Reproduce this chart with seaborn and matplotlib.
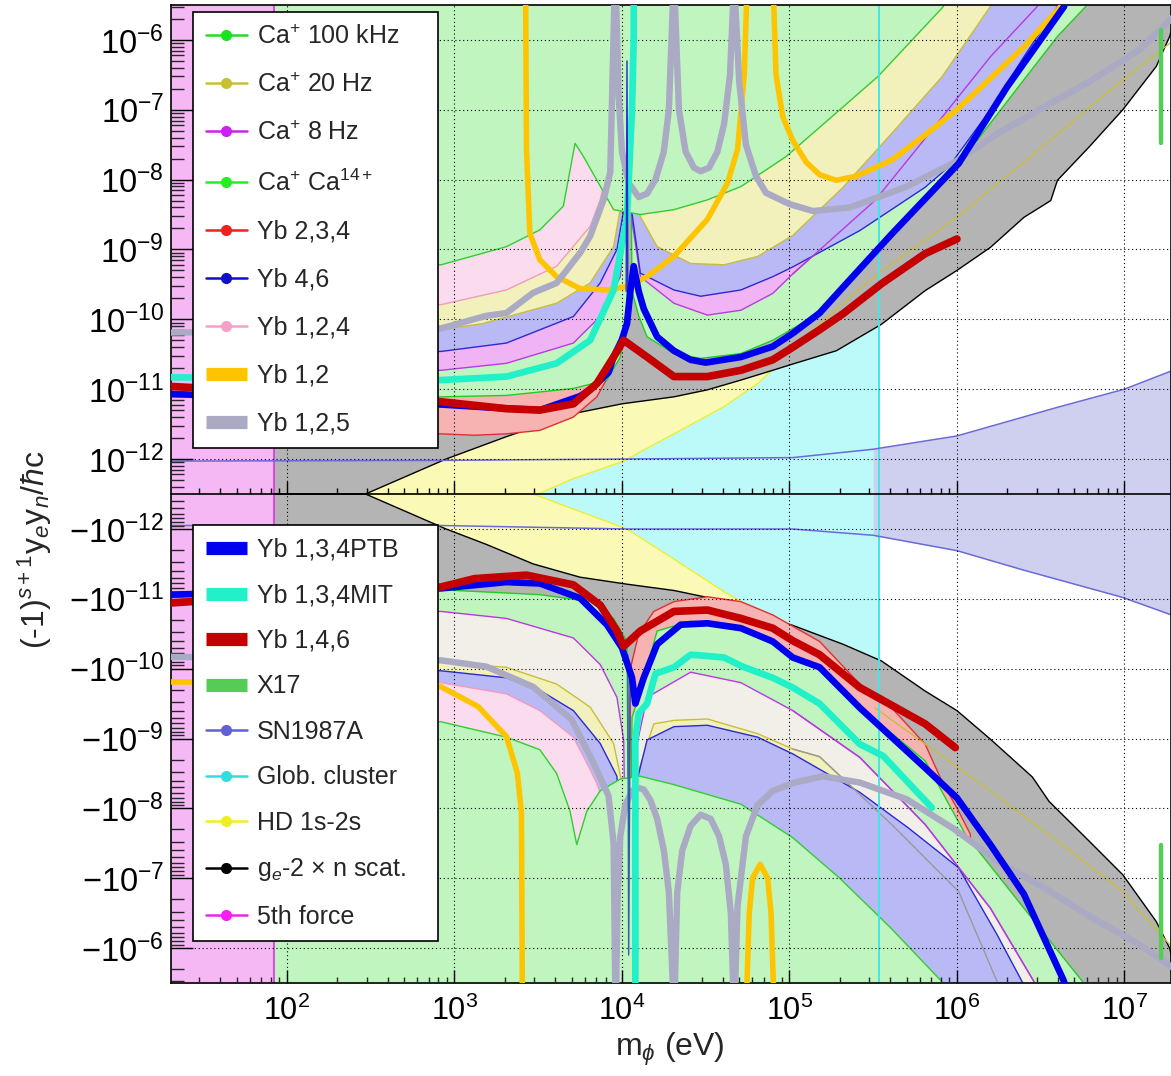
import numpy as np
import matplotlib
matplotlib.use("Agg")
import matplotlib.pyplot as plt
from matplotlib.lines import Line2D
from matplotlib.ticker import NullFormatter, LogLocator
import seaborn as sns

sns.set_theme(style="white")
plt.rcParams["font.family"] = ["Liberation Sans", "DejaVu Sans"]
plt.rcParams["mathtext.fontset"] = "custom"
plt.rcParams["mathtext.rm"] = "Liberation Sans"
plt.rcParams["mathtext.it"] = "Liberation Sans:italic"
plt.rcParams["mathtext.bf"] = "Liberation Sans:bold"

# all curves: log10(m_phi / eV) and log10|y_e y_n / hbar c|
# "up" = positive half, "dn" = negative half; -14 means "at zero"

# --- filled constraints ---
glob_lx = [1.3075, 5.534]
force5_lx = [1.0, 1.92]

hd_up_lx = [1.30, 3.49, 3.50, 3.71, 4.00, 4.31, 4.61, 4.81, 5.00, 5.50, 6.00, 6.50, 7.00, 7.30]
hd_up_ly = [-14, -14, -12.5, -12.28, -12.04, -11.64, -11.25, -10.92, -10.5, -9.5, -8.5, -7.0, -5.6, -5.0]
hd_dn_lx = [1.30, 3.46, 3.47, 4.03, 4.31, 4.61, 4.75, 5.00, 5.50, 6.00, 6.50, 7.00, 7.30]
hd_dn_ly = [-14, -14, -12.5, -12.0, -11.57, -11.10, -10.91, -10.5, -9.5, -8.5, -7.0, -5.6, -5.0]

ge2_up_lx = [1.30, 2.46, 2.47, 2.95, 3.31, 3.71, 4.00, 4.31, 4.51, 4.71, 4.90, 5.02, 5.28,
             5.55, 5.81, 6.00, 6.20, 6.40, 6.56, 6.60, 6.79, 6.99, 7.19, 7.27, 7.30]
ge2_up_ly = [-14, -14, -12.5, -12.0, -11.68, -11.35, -11.21, -11.11, -11.01, -10.87, -10.73, -10.64, -10.45,
             -10.07, -9.59, -9.30, -8.97, -8.54, -8.30, -8.01, -7.53, -7.0, -6.38, -5.95, -5.7]
ge2_dn_lx = [1.30, 2.46, 2.47, 2.95, 3.19, 3.47, 3.75, 4.03, 4.31, 4.59, 4.86, 5.02, 5.32,
             5.55, 5.81, 6.00, 6.20, 6.45, 6.55, 6.79, 6.99, 7.19, 7.27, 7.30]
ge2_dn_ly = [-14, -14, -12.5, -12.0, -11.78, -11.50, -11.31, -11.21, -11.12, -10.98, -10.74, -10.62, -10.35,
             -10.11, -9.68, -9.40, -8.99, -8.45, -8.10, -7.53, -7.05, -6.38, -6.0, -5.7]

sn_up_lx = [1.30, 2.92, 4.03, 5.02, 5.50, 6.00, 6.60, 7.00, 7.28]
sn_up_ly = [-12.03, -12.02, -12.0, -11.98, -11.86, -11.67, -11.26, -11.0, -10.74]
sn_dn_lx = [1.30, 2.92, 4.03, 5.02, 5.50, 6.00, 6.40, 6.99, 7.28]
sn_dn_ly = [-12.05, -12.05, -12.0, -12.0, -11.91, -11.69, -11.41, -11.02, -10.77]

yb234_up_lx = [1.30, 2.92, 3.12, 3.31, 3.51, 3.71, 3.85, 3.95, 4.00, 4.02]
yb234_up_ly = [-11.64, -11.64, -11.66, -11.64, -11.59, -11.40, -11.11, -10.68, -10.30, -5.4]
yb234_dn_lx = [4.03, 4.05, 4.10, 4.19, 4.31, 4.51, 4.71, 4.90, 5.18, 5.42, 5.61, 5.81, 5.91, 6.01, 6.08, 6.10]
yb234_dn_ly = [-5.4, -10.0, -10.5, -10.82, -10.96, -11.03, -10.96, -10.77, -10.39, -9.78, -9.44, -8.92,
               -8.39, -7.96, -7.63, -5.4]

ca14_up_lx = [1.30, 2.92, 3.31, 3.71, 3.91, 3.99, 4.03, 4.045, 4.06, 4.10, 4.15, 4.31, 4.47, 4.71, 4.90,
              5.18, 5.55, 5.81, 6.00, 6.12, 6.40, 6.60, 6.77]
ca14_up_ly = [-11.11, -11.11, -11.09, -10.99, -10.87, -10.54, -9.8, -5.4, -9.6, -9.95, -10.25, -10.49,
              -10.56, -10.49, -10.30, -9.91, -8.97, -8.25, -7.72, -7.44, -6.57, -5.95, -5.52]
ca14_dn_lx = [1.30, 2.92, 3.51, 3.81, 3.95, 4.03, 4.045, 4.06, 4.10, 4.13, 4.21, 4.41, 4.71, 4.90, 5.18,
              5.42, 5.81, 6.05, 6.40, 6.75]
ca14_dn_ly = [-11.13, -11.13, -11.06, -10.96, -10.72, -10.39, -5.4, -9.3, -9.6, -9.87, -10.54, -10.68,
              -10.58, -10.35, -10.0, -9.45, -8.68, -7.63, -6.57, -5.52]

ca8_up_lx = [1.30, 2.92, 3.31, 3.71, 3.87, 3.99, 4.025, 4.04, 4.06, 4.11, 4.31, 4.51, 4.71, 4.90, 5.02,
             5.51, 5.77, 6.20, 6.48]
ca8_up_ly = [-10.73, -10.73, -10.63, -10.34, -9.96, -9.39, -8.5, -5.4, -8.6, -9.39, -9.77, -9.94, -9.87,
             -9.63, -9.35, -8.30, -7.53, -6.24, -5.52]
ca8_dn_lx = [1.30, 2.92, 3.31, 3.71, 3.87, 3.97, 4.01, 4.035, 4.07, 4.15, 4.41, 4.71, 5.02, 5.42, 5.81,
             6.20, 6.46]
ca8_dn_ly = [-10.82, -10.82, -10.72, -10.44, -10.06, -9.59, -8.98, -5.4, -8.7, -9.59, -9.95, -9.80,
             -9.40, -8.73, -7.77, -6.57, -5.52]

yb46_up_lx = [1.30, 2.92, 3.31, 3.71, 3.87, 3.97, 4.02, 4.035, 4.055, 4.11, 4.31, 4.47, 4.71, 4.90, 5.02,
              5.42, 5.81, 5.95, 6.20, 6.40, 6.60]
yb46_up_ly = [-10.46, -10.46, -10.34, -9.96, -9.48, -9.0, -8.3, -5.4, -8.4, -9.34, -9.58, -9.67, -9.58,
              -9.39, -9.25, -8.73, -8.11, -7.82, -7.0, -6.24, -5.52]
yb46_dn_lx = [1.30, 2.92, 3.31, 3.51, 3.71, 3.87, 3.97, 4.035, 4.09, 4.15, 4.31, 4.51, 4.81, 5.02, 5.42,
              5.71, 6.01, 6.24, 6.40]
yb46_dn_ly = [-9.97, -9.97, -9.87, -9.69, -9.40, -8.93, -8.46, -5.4, -8.4, -8.98, -9.17, -9.19, -9.02,
              -8.78, -8.23, -7.72, -7.15, -6.19, -5.47]

ca20_up_lx = [1.30, 2.92, 3.17, 3.61, 3.81, 3.95, 4.00, 4.03, 4.06, 4.11, 4.21, 4.41, 4.61, 4.81, 5.02,
              5.32, 5.61, 5.91, 6.20]
ca20_up_ly = [-10.15, -10.15, -10.06, -9.77, -9.48, -8.96, -8.29, -5.4, -7.9, -8.53, -8.96, -9.20, -9.22,
              -9.10, -8.8, -8.11, -7.34, -6.53, -5.52]
ca20_dn_lx = [1.30, 2.92, 3.31, 3.61, 3.81, 3.95, 4.00, 4.035, 4.08, 4.19, 4.31, 4.51, 4.81, 5.02, 5.18,
              5.61, 6.01, 6.24]
ca20_dn_ly = [-10.09, -10.09, -10.02, -9.78, -9.45, -8.93, -8.36, -5.4, -8.4, -9.21, -9.26, -9.28, -9.07,
              -8.85, -8.74, -7.77, -6.81, -5.52]

yb124_up_lx = [1.30, 2.92, 3.31, 3.61, 3.81, 3.87, 3.94, 3.96]
yb124_up_ly = [-9.79, -9.79, -9.58, -9.24, -8.67, -8.29, -7.57, -5.4]
yb124_dn_lx = [1.30, 2.92, 3.31, 3.51, 3.71, 3.79, 3.85, 3.90, 3.94, 3.96]
yb124_dn_ly = [-9.80, -9.80, -9.64, -9.40, -9.02, -8.65, -8.36, -8.0, -7.0, -5.4]

ca100_up_lx = [1.30, 2.92, 3.31, 3.51, 3.65, 3.72, 3.77, 3.95, 4.11, 4.31, 4.51, 4.71, 4.98, 5.53, 5.92]
ca100_up_ly = [-9.22, -9.22, -8.96, -8.72, -8.38, -7.48, -7.67, -8.43, -8.50, -8.43, -8.29, -8.10,
               -7.67, -6.52, -5.52]
ca100_dn_lx = [1.30, 2.92, 3.31, 3.51, 3.61, 3.69, 3.73, 3.79, 3.87, 3.99, 4.11, 4.31, 4.71, 5.02,
               5.30, 5.60, 5.91]
ca100_dn_ly = [-9.24, -9.24, -9.02, -8.84, -8.50, -7.96, -7.48, -7.96, -8.25, -8.42, -8.46, -8.34,
               -8.06, -7.58, -7.0, -6.3, -5.52]

# --- thick curves ---
yb12_up1_lx = [3.425, 3.43, 3.45, 3.51, 3.61, 3.75, 3.91, 4.03, 4.15, 4.31, 4.51, 4.63, 4.69, 4.73, 4.745]
yb12_up1_ly = [-5.4, -7.57, -8.77, -9.15, -9.39, -9.56, -9.58, -9.53, -9.39, -9.10, -8.57, -8.05, -7.57, -6.5, -5.4]
yb12_up2_lx = [4.905, 4.92, 4.96, 5.02, 5.10, 5.18, 5.28, 5.40, 5.61, 5.80, 6.00, 6.20, 6.40, 6.62, 6.65]
yb12_up2_ly = [-5.4, -6.5, -7.1, -7.44, -7.75, -7.93, -8.01, -7.95, -7.72, -7.38, -7.0, -6.55, -6.10, -5.52, -5.4]
yb12_dn1_lx = [1.30, 2.00, 2.92, 3.14, 3.31, 3.375, 3.40, 3.405]
yb12_dn1_ly = [-9.81, -9.80, -9.74, -9.46, -9.03, -8.51, -7.94, -5.4]
yb12_dn2_lx = [4.745, 4.76, 4.78, 4.825, 4.87, 4.89, 4.905]
yb12_dn2_ly = [-5.4, -6.5, -7.0, -7.20, -7.0, -6.5, -5.4]

yb125_up_lx = [1.30, 2.00, 2.92, 3.19, 3.31, 3.47, 3.61, 3.75, 3.81, 3.89, 3.93, 3.955,
               3.965, 3.98, 4.00, 4.04, 4.10, 4.15, 4.20, 4.25, 4.28, 4.305,
               4.315, 4.34, 4.38, 4.43, 4.47, 4.52, 4.57, 4.61, 4.645, 4.665,
               4.675, 4.70, 4.74, 4.80, 4.86, 5.00, 5.14, 5.36, 5.70, 5.98, 6.25, 6.53, 6.81, 7.09, 7.30]
yb125_up_ly = [-10.19, -10.17, -10.13, -9.95, -9.91, -9.62, -9.48, -9.05, -8.81, -8.29, -7.9, -5.4,
               -5.4, -6.8, -7.6, -8.05, -8.25, -8.2, -8.0, -7.6, -7.0, -5.4,
               -5.4, -7.0, -7.6, -7.83, -7.88, -7.83, -7.6, -7.2, -6.5, -5.4,
               -5.4, -6.6, -7.5, -7.95, -8.19, -8.35, -8.45, -8.40, -8.10, -7.76, -7.33, -6.95, -6.57, -6.14, -5.65]
yb125_dn_lx = [1.30, 2.00, 2.92, 3.19, 3.47, 3.70, 3.83, 3.92, 3.95, 3.96,
               3.965, 3.975, 3.99, 4.02, 4.06, 4.09, 4.13, 4.17, 4.21, 4.25, 4.28, 4.305,
               4.315, 4.33, 4.36, 4.41, 4.47, 4.53, 4.58, 4.62, 4.65, 4.665,
               4.675, 4.69, 4.74, 4.81, 4.90, 5.03, 5.20, 5.42, 5.70, 5.98, 6.25, 6.53, 6.81, 7.09, 7.30]
yb125_dn_ly = [-10.17, -10.15, -10.12, -10.03, -9.74, -9.27, -8.65, -8.18, -7.5, -5.4,
               -5.4, -6.8, -7.6, -8.05, -8.25, -8.3, -8.27, -8.12, -7.85, -7.4, -6.8, -5.4,
               -5.4, -6.8, -7.4, -7.75, -7.91, -7.85, -7.6, -7.2, -6.5, -5.4,
               -5.4, -6.6, -7.6, -8.05, -8.25, -8.37, -8.46, -8.37, -8.13, -7.71, -7.23, -6.85, -6.43, -6.05, -5.7]

ptb_up_lx = [1.30, 2.00, 2.92, 3.19, 3.51, 3.75, 3.81, 3.92, 3.95, 4.00, 4.03, 4.05, 4.07, 4.10, 4.13,
             4.21, 4.31, 4.41, 4.50, 4.71, 4.90, 5.02, 5.18, 5.32, 5.61, 6.01, 6.30, 6.64]
ptb_up_ly = [-11.07, -11.12, -11.22, -11.26, -11.30, -11.10, -11.01, -10.76, -10.54, -10.29, -10.06, -9.6,
             -9.24, -9.60, -9.85, -10.25, -10.45, -10.58, -10.62, -10.54, -10.39, -10.2, -9.91, -9.54,
             -8.78, -7.77, -6.67, -5.52]
ptb_dn_lx = [1.30, 2.00, 2.92, 3.31, 3.51, 3.75, 3.91, 4.00, 4.06, 4.08, 4.13, 4.21, 4.35, 4.51, 4.71,
             4.90, 5.02, 5.18, 5.42, 5.81, 6.00, 6.20, 6.40, 6.64]
ptb_dn_ly = [-11.06, -11.1, -11.15, -11.24, -11.22, -11.01, -10.63, -10.30, -9.87, -9.50, -9.87, -10.35,
             -10.63, -10.65, -10.58, -10.39, -10.16, -10.02, -9.44, -8.58, -8.15, -7.48, -6.77, -5.52]
spike_up_lx = [4.025, 4.03, 4.035]
spike_up_ly = [-9.6, -6.3, -9.6]
spike_dn_lx = [4.035, 4.04, 4.05]
spike_dn_ly = [-10.2, -5.9, -9.9]

mit_up_lx = [1.30, 2.00, 2.92, 3.31, 3.61, 3.81, 3.95, 4.03, 4.06, 4.07, 4.07]
mit_up_ly = [-10.83, -10.85, -10.87, -10.82, -10.63, -10.30, -9.58, -8.53, -7.0, -6.0, -5.4]
mit_dn_lx = [4.08, 4.08, 4.10, 4.15, 4.20, 4.31, 4.41, 4.47, 4.61, 4.72, 4.90, 5.02, 5.18, 5.42, 5.56, 5.85]
mit_dn_ly = [-5.4, -9.0, -9.36, -9.50, -9.93, -10.02, -10.20, -10.19, -10.16, -10.03, -9.87, -9.73,
             -9.50, -8.92, -8.75, -8.01]

yb146_up_lx = [1.30, 2.00, 2.92, 3.31, 3.51, 3.71, 3.85, 3.95, 4.01, 4.15, 4.31, 4.51, 4.71, 4.90,
               5.02, 5.18, 5.32, 5.55, 5.81, 6.00]
yb146_up_ly = [-10.96, -11.05, -11.18, -11.28, -11.30, -11.21, -10.92, -10.54, -10.30, -10.54, -10.82,
               -10.82, -10.73, -10.58, -10.40, -10.15, -9.92, -9.49, -9.06, -8.85]
yb146_dn_lx = [1.30, 2.00, 2.92, 3.12, 3.43, 3.71, 3.87, 3.97, 4.01, 4.11, 4.31, 4.51, 4.71, 4.90,
               5.02, 5.18, 5.42, 5.81, 5.99]
yb146_dn_ly = [-10.94, -11.05, -11.17, -11.29, -11.34, -11.20, -10.91, -10.54, -10.32, -10.54, -10.82,
               -10.84, -10.72, -10.58, -10.40, -10.20, -9.73, -9.21, -8.87]

olive_up_lx = [5.02, 5.50, 6.00, 6.50, 6.99, 7.27]
olive_up_ly = [-10.4, -9.4, -8.54, -7.55, -6.57, -6.05]
olive_dn_lx = [5.51, 6.20, 6.60, 6.99, 7.27]
olive_dn_ly = [-9.44, -8.25, -7.53, -6.81, -6.05]

x17_lx = 7.22
x17_ly = [-7.48, -5.86]

EDGE = 1e-5

fig = plt.figure(figsize=(11.71, 10.76), dpi=100)
ax = fig.add_axes([171 / 1171, 93 / 1076, 1000 / 1171, 978 / 1076])
ax.set_xscale("log")
ax.set_yscale("symlog", linthresh=10 ** -12.5, linscale=0.001)


def fill_half(lx, ly, sign, face, edge, z, lw=1.0):
    x = 10.0 ** np.array(lx)
    y = sign * 10.0 ** np.array(ly)
    ax.fill_between(x, y, sign * EDGE, facecolor=face, edgecolor="none", lw=0, zorder=z)
    if edge is not None:
        ax.plot(x, y, color=edge, lw=lw, zorder=z + 0.005)


def curve(lx, ly, sign, color, lw, z=3.0):
    sns.lineplot(x=10.0 ** np.array(lx), y=sign * 10.0 ** np.array(ly), ax=ax, sort=False,
                 estimator=None, color=color, linewidth=lw, zorder=z, legend=False)


# glob. cluster and HD 1s-2s underneath
ax.fill_between(10.0 ** np.array(glob_lx), -EDGE, EDGE, facecolor="#bcfafa", lw=0, zorder=1.0)
fill_half(hd_up_lx, hd_up_ly, 1, "#fafab6", "#eeee30", 1.01)
fill_half(hd_dn_lx, hd_dn_ly, -1, "#fafab6", "#eeee30", 1.01)
fill_half(ge2_up_lx, ge2_up_ly, 1, "#b4b4b4", "black", 1.02)
fill_half(ge2_dn_lx, ge2_dn_ly, -1, "#b4b4b4", "black", 1.02)

# SN1987A: between zero and its curve
sn_x_up = 10.0 ** np.array(sn_up_lx)
sn_x_dn = 10.0 ** np.array(sn_dn_lx)
ax.fill_between(sn_x_up[4:], 0, 10.0 ** np.array(sn_up_ly)[4:], facecolor="#cfcff0", lw=0, zorder=1.03)
ax.fill_between(sn_x_dn[4:], 0, -10.0 ** np.array(sn_dn_ly)[4:], facecolor="#cfcff0", lw=0, zorder=1.03)

GREEN = "#c0f5c0"
up_layers = [
    (yb234_up_lx, yb234_up_ly, "#f7b2b2", "#e03030"),
    (ca14_up_lx, ca14_up_ly, GREEN, "#22cc22"),
    (ca8_up_lx, ca8_up_ly, "#f0b4f5", "#b83ae0"),
    (yb46_up_lx, yb46_up_ly, "#b9b9f5", "#2a2ad0"),
    (ca20_up_lx, ca20_up_ly, "#f2f0bb", "#c8be3c"),
    (yb124_up_lx, yb124_up_ly, "#fbdcee", "#f09cc0"),
    (ca100_up_lx, ca100_up_ly, GREEN, "#33cc33"),
]
dn_layers = [
    (yb234_dn_lx, yb234_dn_ly, "#f7b2b2", "#e03030"),
    (ca14_dn_lx, ca14_dn_ly, GREEN, "#22cc22"),
    (ca8_dn_lx, ca8_dn_ly, "#f2efe9", "#b83ae0"),
    (ca20_dn_lx, ca20_dn_ly, "#f2f0bb", "#c8be3c"),
    (yb46_dn_lx, yb46_dn_ly, "#b9b9f5", "#2a2ad0"),
    (yb124_dn_lx, yb124_dn_ly, "#fbdcee", "#f09cc0"),
    (ca100_dn_lx, ca100_dn_ly, GREEN, "#33cc33"),
]
for i, (lx, ly, face, edge) in enumerate(up_layers):
    fill_half(lx, ly, 1, face, edge, 1.05 + 0.01 * i)
for i, (lx, ly, face, edge) in enumerate(dn_layers):
    fill_half(lx, ly, -1, face, edge, 1.05 + 0.01 * i)

# thin lines seen on top of the fills
ax.plot(10.0 ** np.array(olive_up_lx), 10.0 ** np.array(olive_up_ly), color="#c8be3c", lw=1, zorder=1.2)
ax.plot(10.0 ** np.array(olive_dn_lx), -10.0 ** np.array(olive_dn_ly), color="#c8be3c", lw=1, zorder=1.2)
ax.plot(10.0 ** np.array(ca8_up_lx[14:]), 10.0 ** np.array(ca8_up_ly[14:]), color="#b83ae0", lw=1, zorder=1.2)
ax.plot(10.0 ** np.array(ca8_dn_lx[12:]), -10.0 ** np.array(ca8_dn_ly[12:]), color="#b83ae0", lw=1, zorder=1.2)
ax.plot(10.0 ** np.array(ca20_dn_lx[13:]), -10.0 ** np.array(ca20_dn_ly[13:]), color="#999999", lw=1, zorder=1.2)

# 5th force
ax.fill_between(10.0 ** np.array(force5_lx), -EDGE, EDGE, facecolor="#f5b8f5", lw=0, zorder=2.2)
ax.axvline(10.0 ** force5_lx[1], color="#dd33dd", lw=1.2, zorder=2.21)
ax.axvline(10.0 ** glob_lx[1], color="#44e6e6", lw=1.4, zorder=2.25)
ax.plot(sn_x_up, 10.0 ** np.array(sn_up_ly), color="#6a6ad8", lw=1.1, zorder=2.3)
ax.plot(sn_x_dn, -10.0 ** np.array(sn_dn_ly), color="#6a6ad8", lw=1.1, zorder=2.3)

# thick curves
C12, C125, CPTB, CMIT, C146 = "#ffc400", "#aaaac4", "#0000ee", "#22f0c8", "#c40000"
curve(yb12_up1_lx, yb12_up1_ly, 1, C12, 4.0, 3.0)
curve(yb12_up2_lx, yb12_up2_ly, 1, C12, 4.0, 3.0)
curve(yb12_dn1_lx, yb12_dn1_ly, -1, C12, 4.0, 3.0)
curve(yb12_dn2_lx, yb12_dn2_ly, -1, C12, 4.0, 3.0)
curve(yb125_up_lx, yb125_up_ly, 1, C125, 4.6, 3.1)
curve(yb125_dn_lx, yb125_dn_ly, -1, C125, 4.6, 3.1)
curve(mit_up_lx, mit_up_ly, 1, CMIT, 4.8, 3.2)
curve(mit_dn_lx, mit_dn_ly, -1, CMIT, 4.8, 3.2)
curve(spike_up_lx, spike_up_ly, 1, "#2a2ad0", 1.0, 3.25)
curve(spike_dn_lx, spike_dn_ly, -1, "#2a60b0", 1.0, 3.25)
curve(ptb_up_lx, ptb_up_ly, 1, CPTB, 4.8, 3.3)
curve(ptb_dn_lx, ptb_dn_ly, -1, CPTB, 4.8, 3.3)
curve(yb146_up_lx, yb146_up_ly, 1, C146, 5.5, 3.4)
curve(yb146_dn_lx, yb146_dn_ly, -1, C146, 5.5, 3.4)
for s in (1, -1):
    curve([x17_lx, x17_lx], x17_ly, s, "#55cc55", 3.2, 3.5)

ax.set_xlim(10 ** 1.3075, 10 ** 7.278)
ax.set_ylim(-10 ** -5.5, 10 ** -5.5)

# axes decoration in ROOT style
xmaj = [10.0 ** k for k in range(2, 8)]
ax.set_xticks(xmaj, [f"$10^{{{k}}}$" for k in range(2, 8)])
ax.xaxis.set_minor_locator(LogLocator(base=10, subs=np.arange(2, 10), numticks=50))
ax.xaxis.set_minor_formatter(NullFormatter())
exps = list(range(-12, -5))
ymaj = [10.0 ** e for e in exps] + [-10.0 ** e for e in exps]
ylab = [f"$10^{{{e}}}$" for e in exps] + [f"$-10^{{{e}}}$" for e in exps]
ax.set_yticks(ymaj, ylab)
ymin = [k * 10.0 ** e for e in range(-13, -5) for k in range(2, 10)
        if 10 ** -12.5 < k * 10.0 ** e < 10 ** -5.5]
ax.set_yticks(ymin + [-v for v in ymin], minor=True)

ax.tick_params(axis="x", which="major", direction="in", length=9.5, width=1.0, bottom=True, top=False,
               labelsize=22, pad=9, colors="black")
ax.tick_params(axis="x", which="minor", direction="in", length=4.5, width=1.0, bottom=True, top=False)
ax.tick_params(axis="y", which="major", direction="in", length=16, width=1.0, left=True, right=False,
               labelsize=23.5, pad=5, colors="black")
ax.tick_params(axis="y", which="minor", direction="in", length=9.5, width=1.0, left=True, right=False)
for sp in ax.spines.values():
    sp.set_color("black")
    sp.set_linewidth(1.2)
ax.grid(True, which="major", color="black", linestyle=(0, (1, 2.5)), linewidth=0.8)
ax.set_axisbelow(False)
ax.set_xlabel("")
ax.set_ylabel("")

# the zero line carries its own ticks
mid = ax.secondary_xaxis(0.5)
mid.set_xticks(xmaj)
mid.xaxis.set_major_formatter(NullFormatter())
mid.xaxis.set_minor_locator(LogLocator(base=10, subs=np.arange(2, 10), numticks=50))
mid.xaxis.set_minor_formatter(NullFormatter())
mid.tick_params(which="major", direction="out", length=9.5, width=1.0, colors="black")
mid.tick_params(which="minor", direction="out", length=4.5, width=1.0, colors="black")
for sp in mid.spines.values():
    sp.set_color("black")
    sp.set_linewidth(1.2)
mid.set_zorder(2.6)

fig.text(0.572, 0.025, r"m$_{\phi}$ (eV)", fontsize=23, ha="center", va="center")
fig.text(0.030, 0.489, r"(-1)$^{s+1}$y$_{e}$y$_{n}$/$\hbar$c", fontsize=23, rotation=90,
         ha="center", va="center")

# legends
leg1_labels = ["Ca$^{+}$ 100 kHz", "Ca$^{+}$ 20 Hz", "Ca$^{+}$ 8 Hz", "Ca$^{+}$ Ca$^{14+}$",
               "Yb 2,3,4", "Yb 4,6", "Yb 1,2,4", "Yb 1,2", "Yb 1,2,5"]
leg1_colors = ["#22dd22", "#c8c032", "#cc22ee", "#22ee22", "#ee2020", "#1010cc", "#f5a0c8", C12, C125]
leg1_thick = [False] * 7 + [True] * 2
leg2_labels = ["Yb 1,3,4PTB", "Yb 1,3,4MIT", "Yb 1,4,6", "X17", "SN1987A", "Glob. cluster",
               "HD 1s-2s", "g$_{e}$-2 × n scat.", "5th force"]
leg2_colors = [CPTB, CMIT, C146, "#55cc55", "#6060d8", "#33dddd", "#eeee22", "black", "#ee22ee"]
leg2_thick = [True] * 4 + [False] * 5


def handles(colors, thick):
    out = []
    for c, t in zip(colors, thick):
        if t:
            out.append(Line2D([], [], color=c, lw=9.5, solid_capstyle="butt"))
        else:
            out.append(Line2D([], [], color=c, lw=1.8, marker="o", ms=7))
    return out


legkw = dict(loc="upper left", mode="expand", borderaxespad=0, fontsize=18,
             handlelength=1.65, handletextpad=0.4, borderpad=0.5, fancybox=False, framealpha=1,
             edgecolor="black")
leg1 = ax.legend(handles(leg1_colors, leg1_thick), leg1_labels, labelspacing=0.96,
                 bbox_to_anchor=(0.022, 0.0, 0.245, 0.993), **legkw)
leg1.get_frame().set_linewidth(1.2)
leg1.set_zorder(6)
ax.add_artist(leg1)
leg2 = ax.legend(handles(leg2_colors, leg2_thick), leg2_labels, labelspacing=0.86,
                 bbox_to_anchor=(0.022, 0.0, 0.245, 0.468), **legkw)
leg2.get_frame().set_linewidth(1.2)
leg2.set_zorder(6)

fig.savefig("out.png", dpi=100)
